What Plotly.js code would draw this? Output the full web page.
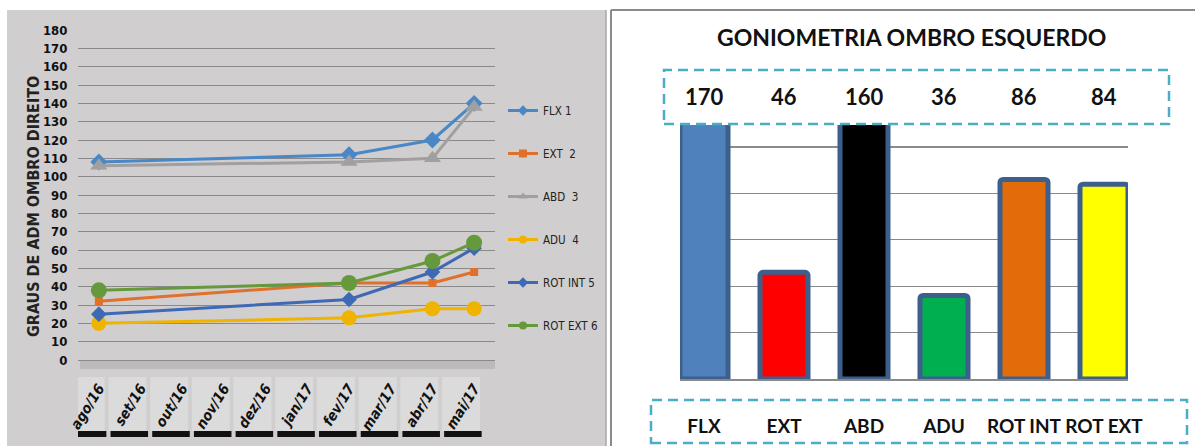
<!DOCTYPE html>
<html>
<head>
<meta charset="utf-8">
<script src="https://cdn.plot.ly/plotly-3.0.1.min.js"></script>
<style>html,body{margin:0;padding:0;background:#fff;}#chart{width:1195px;height:446px;}</style>
</head>
<body>
<div id="chart"></div>
<script>
// ---------- Data: left chart (GRAUS DE ADM OMBRO DIREITO) ----------
const months = ['ago/16','set/16','out/16','nov/16','dez/16','jan/17','fev/17','mar/17','abr/17','mai/17'];
const seriesNames = ['FLX 1','EXT  2','ABD  3','ADU  4','ROT INT 5','ROT EXT 6'];
const flx1    = [108, null, null, null, null, null, 112, null, 120, 140];
const ext2    = [ 32, null, null, null, null, null,  42, null,  42,  48];
const abd3    = [106, null, null, null, null, null, 108, null, 110, 138];
const adu4    = [ 20, null, null, null, null, null,  23, null,  28,  28];
const rotInt5 = [ 25, null, null, null, null, null,  33, null,  48,  61];
const rotExt6 = [ 38, null, null, null, null, null,  42, null,  54,  64];
const yTicks  = [0,10,20,30,40,50,60,70,80,90,100,110,120,130,140,150,160,170,180];

// ---------- Data: right chart (GONIOMETRIA OMBRO ESQUERDO) ----------
const movements = ['FLX','EXT','ABD','ADU','ROT INT','ROT EXT'];
const esquerdo  = [170, 46, 160, 36, 86, 84];

// ---------- Styles ----------
const lineColors = ['#4a87c6','#e0712c','#a0a0a0','#efb300','#3e69b5','#66993c'];
const symbols    = ['diamond','square','triangle-up','circle','diamond','circle'];
const sizes      = [13, 8, 15, 15, 12, 16];
const barColors  = ['#4f81bd','#ff0000','#000000','#00b050','#e36c0a','#ffff00'];
const narrow = "'DejaVu Sans Condensed','Liberation Sans Narrow',sans-serif";
const calib = "Lato,'Open Sans',sans-serif";
const W = 1195, H = 446;
const px = v => v / W, py = v => 1 - v / H;

const allSeries = [flx1, ext2, abd3, adu4, rotInt5, rotExt6];
const traces = [];
allSeries.forEach((s, i) => {
  traces.push({
    type: 'scatter', mode: 'lines+markers', x: months, y: s, connectgaps: true,
    name: seriesNames[i], showlegend: false, xaxis: 'x', yaxis: 'y', cliponaxis: false,
    line: {color: lineColors[i], width: 3},
    marker: {color: lineColors[i], symbol: symbols[i], size: sizes[i]},
    hoverinfo: 'x+y+name'
  });
});
// legend entries (small markers as in the reference legend)
allSeries.forEach((s, i) => {
  traces.push({
    type: 'scatter', mode: 'lines+markers', x: [null], y: [null],
    name: seriesNames[i], showlegend: true, legendgroup: 'g' + i, xaxis: 'x', yaxis: 'y',
    line: {color: lineColors[i], width: 3},
    marker: {color: lineColors[i], symbol: symbols[i], size: 8}
  });
});
traces.push({
  type: 'bar', x: movements, y: esquerdo, xaxis: 'x2', yaxis: 'y2', width: 0.6,
  showlegend: false,
  marker: {color: barColors, line: {color: '#3c5f8c', width: 5}, cornerradius: 3},
  hoverinfo: 'x+y'
});

const shapes = [
  // left panel background
  {type:'rect', xref:'paper', yref:'paper', x0:px(7), x1:px(606), y0:0, y1:py(10), fillcolor:'#d0cece', line:{width:0}, layer:'below'},
  {type:'line', xref:'paper', yref:'paper', x0:px(606), x1:px(606), y0:0, y1:py(10), line:{color:'#a9a7a7', width:1.5}},
  // shadow under plot area
  {type:'rect', xref:'paper', yref:'paper', x0:px(80), x1:px(495), y0:py(369), y1:py(360), fillcolor:'#bcbaba', line:{width:0}, layer:'below'},
  // right panel border
  {type:'line', xref:'paper', yref:'paper', x0:px(611), x1:1, y0:py(10), y1:py(10), line:{color:'#8a8a8a', width:2}},
  {type:'line', xref:'paper', yref:'paper', x0:px(611), x1:px(611), y0:0, y1:py(10), line:{color:'#8a8a8a', width:2}},
  // dashed boxes
  {type:'rect', xref:'paper', yref:'paper', x0:px(664), x1:px(1169), y0:py(124), y1:py(70), line:{color:'#4bacc6', width:2.5, dash:'10px,6px'}},
  {type:'rect', xref:'paper', yref:'paper', x0:px(651), x1:px(1187), y0:py(443), y1:py(400), line:{color:'#4bacc6', width:2.5, dash:'10px,6px'}}
];
// tick label boxes of the left chart
months.forEach((m, i) => {
  shapes.push({type:'rect', xref:'x', yref:'paper', x0:i-0.77, x1:i+0.14, y0:py(431), y1:py(377), fillcolor:'#dcdbdb', line:{width:0}, layer:'below'});
  shapes.push({type:'rect', xref:'x', yref:'paper', x0:i-0.72, x1:i+0.18, y0:py(437), y1:py(431), fillcolor:'#111111', line:{width:0}, layer:'below'});
});

const annotations = [
  {xref:'paper', yref:'paper', x:px(33), y:py(207), xanchor:'center', yanchor:'middle',
   text:'GRAUS DE ADM OMBRO DIREITO', textangle:-90, showarrow:false,
   font:{family:narrow, size:16, weight:'bold', color:'#222'}},
  {xref:'paper', yref:'paper', x:px(911), y:py(37), xanchor:'center', yanchor:'middle',
   text:'GONIOMETRIA OMBRO ESQUERDO', showarrow:false,
   font:{family:calib, size:23, weight:'bold', color:'#111'}}
];
movements.forEach((m, i) => {
  annotations.push({xref:'x2', yref:'paper', x:m, y:py(97), xanchor:'center', yanchor:'middle',
    text:String(esquerdo[i]), showarrow:false,
    font:{family:calib, size:22, weight:'bold', color:'#111'}});
});

const layout = {
  width: W, height: H,
  margin: {l:0, r:0, t:0, b:0},
  paper_bgcolor: '#ffffff', plot_bgcolor: '#ffffff',
  showlegend: true,
  legend: {x: px(503), y: py(96), xanchor:'left', yanchor:'top', bgcolor:'rgba(0,0,0,0)',
           traceorder:'grouped', tracegroupgap: 24, font:{family:narrow, size:11.5, color:'#222'}},
  xaxis: {domain:[px(78), px(495)], anchor:'y', type:'category', range:[-0.5, 9.5],
          showgrid:false, showline:false, zeroline:false, ticks:'outside', ticklen:13, tickcolor:'rgba(0,0,0,0)',
          tickangle:-58, tickfont:{family:"'DejaVu Sans Condensed',sans-serif", size:14.5, weight:'bold', style:'italic', color:'#111'}},
  yaxis: {domain:[py(360), py(30)], anchor:'x', range:[0,180], tickvals: yTicks, showgrid:true, gridcolor:'#8a8a8a', gridwidth:1,
          zeroline:true, zerolinecolor:'#8a8a8a', zerolinewidth:1, showline:false,
          ticks:'outside', ticklen:7, tickcolor:'rgba(0,0,0,0)',
          tickfont:{family:narrow, size:13, weight:'bold', color:'#111'}},
  xaxis2: {domain:[px(680), px(1128)], anchor:'y2', type:'category', range:[-0.3, 5.3],
           showgrid:false, zeroline:false, showline:true, linecolor:'#8a8a8a', linewidth:1.5,
           ticks:'outside', ticklen:30, tickcolor:'rgba(0,0,0,0)', tickangle:0,
           tickfont:{family:calib, size:19, weight:'bold', color:'#111'}},
  yaxis2: {domain:[py(379), py(125)], anchor:'x2', range:[0, 109.5], dtick:20, showgrid:true, gridcolor:'#8a8a8a', gridwidth:1.2,
           zeroline:false, showticklabels:false, showline:false},
  shapes: shapes,
  annotations: annotations,
  hovermode: false
};

Plotly.newPlot('chart', traces, layout, {displayModeBar:false, staticPlot:true});
</script>
</body>
</html>
